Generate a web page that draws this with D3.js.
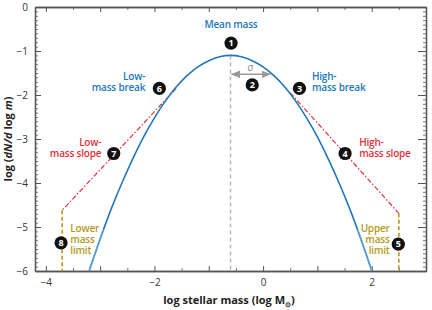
<!DOCTYPE html>
<html>
<head>
<meta charset="utf-8">
<script src="https://cdn.jsdelivr.net/npm/d3@7"></script>
<style>
  html, body { margin: 0; padding: 0; background: #fff; }
  svg { display: block; font-family: "Open Sans", "Noto Sans", sans-serif; }
  .axis path.domain { stroke: #555; stroke-width: 1.3; }
  .axis line { stroke: #555; }
  .axis.minor line { stroke: #777; }
  .axis text { fill: #333; font-size: 10px; font-family: "Open Sans", sans-serif; }
</style>
</head>
<body>
<svg id="chart" width="432" height="310"></svg>
<script>
// log stellar mass vs log(dN/d log m)
const massX = [-3.2, -3.0, -2.8, -2.6, -2.4, -2.2, -2.0, -1.8, -1.6, -1.4, -1.2, -1.0, -0.8, -0.6,
  -0.4, -0.2, 0.0, 0.2, 0.4, 0.6, 0.8, 1.0, 1.2, 1.4, 1.6, 1.8, 2.0];
const densityY = [-5.99, -5.27, -4.60, -4.00, -3.45, -2.95, -2.52, -2.14, -1.82, -1.56, -1.36, -1.22, -1.13, -1.10,
  -1.13, -1.22, -1.36, -1.56, -1.82, -2.14, -2.52, -2.95, -3.45, -4.00, -4.60, -5.27, -5.99];

const lowSlope = [[-1.6, -1.85], [-3.7, -4.62]];
const highSlope = [[0.5, -1.95], [2.5, -4.69]];
const lowerLimit = [[-3.7, -4.62], [-3.7, -6]];
const upperLimit = [[2.5, -4.69], [2.5, -6]];
const meanMass = -0.6;
const meanPeak = -1.1;
const sigmaArrow = [[-0.6, -1.53], [0.13, -1.53]];

const xTicks = [-4, -2, 0, 2];
const yTicks = [0, -1, -2, -3, -4, -5, -6];

// badge number, x, y (data coords)
const badges = [
  [1, -0.59, -0.82], [2, -0.20, -1.77], [3, 0.67, -1.85], [4, 1.51, -3.33],
  [5, 2.49, -5.39], [6, -1.91, -1.85], [7, -2.75, -3.33], [8, -3.72, -5.36]
];
// text lines, x, y, anchor, colour key
const labels = [
  [['Mean mass'], -0.59, -0.48, 'middle', 'blue'],
  [['High-', 'mass break'], 0.90, -1.67, 'start', 'blue'],
  [['Low-', 'mass break'], -2.17, -1.67, 'end', 'blue'],
  [['High-', 'mass slope'], 1.77, -3.15, 'start', 'red'],
  [['Low-', 'mass slope'], -2.98, -3.15, 'end', 'red'],
  [['Lower', 'mass', 'limit'], -3.55, -5.12, 'start', 'olive'],
  [['Upper', 'mass', 'limit'], 2.33, -5.12, 'end', 'olive']
];

const COLORS = { blue: '#2277bb', lightBlue: '#9cc4e8', red: '#e2323c', olive: '#b39a1c', gray: '#b4b4b4' };

const svg = d3.select('#chart');
const plotL = 35, plotR = 426, plotT = 7, plotB = 271;
const x = d3.scaleLinear().domain([-4.2, 3]).range([plotL, plotR]);
const y = d3.scaleLinear().domain([-6, 0]).range([plotB, plotT]);

const minorX = d3.range(-4, 3.01, 0.5).filter((v) => !Number.isInteger(v));
const allX = d3.range(-4, 3.01, 1);
const minorY = d3.range(-60, 1, 1).map((v) => v / 10).filter((v) => !Number.isInteger(v));

// minor ticks first, then major axes
svg.append('g').attr('class', 'axis minor').attr('transform', `translate(0,${plotB})`).call(d3.axisBottom(x).tickValues(minorX).tickSize(-3).tickSizeOuter(0).tickFormat(''));
svg.append('g').attr('class', 'axis minor').attr('transform', `translate(0,${plotT})`).call(d3.axisTop(x).tickValues(minorX).tickSize(-3).tickSizeOuter(0).tickFormat(''));
svg.append('g').attr('class', 'axis minor').attr('transform', `translate(${plotL},0)`).call(d3.axisLeft(y).tickValues(minorY).tickSize(-3).tickSizeOuter(0).tickFormat(''));
svg.append('g').attr('class', 'axis minor').attr('transform', `translate(${plotR},0)`).call(d3.axisRight(y).tickValues(minorY).tickSize(-3).tickSizeOuter(0).tickFormat(''));

svg.append('g').attr('class', 'axis').attr('transform', `translate(0,${plotT})`).call(d3.axisTop(x).tickValues(allX).tickSize(-5).tickSizeOuter(0).tickFormat(''));
svg.append('g').attr('class', 'axis').attr('transform', `translate(${plotR},0)`).call(d3.axisRight(y).tickValues(yTicks).tickSize(-8).tickSizeOuter(0).tickFormat(''));
svg.append('g').attr('class', 'axis').attr('transform', `translate(${plotL},0)`).call(d3.axisLeft(y).tickValues(yTicks).tickSize(-6).tickSizeOuter(0).tickPadding(7).tickFormat(d3.format('d')));
const xAxis = svg.append('g').attr('class', 'axis').attr('transform', `translate(0,${plotB})`).call(d3.axisBottom(x).tickValues(allX).tickSize(-5).tickSizeOuter(0).tickPadding(8).tickFormat((v) => (xTicks.includes(v) ? d3.format('d')(v) : '')));
xAxis.select('path.domain').attr('stroke-width', 2).attr('stroke', '#444');

// mean-mass dashed line
svg.append('line').attr('x1', x(meanMass)).attr('x2', x(meanMass)).attr('y1', y(meanPeak)).attr('y2', y(-6))
  .attr('stroke', COLORS.gray).attr('stroke-width', 1.4).attr('stroke-dasharray', '4,3');

// sigma arrow
const defs = svg.append('defs');
defs.append('marker').attr('id', 'arr').attr('viewBox', '0 0 10 10').attr('refX', 9).attr('refY', 5)
  .attr('markerWidth', 6).attr('markerHeight', 6).attr('orient', 'auto-start-reverse')
  .append('path').attr('d', 'M0,1 L10,5 L0,9 Z').attr('fill', '#999');
svg.append('line').attr('x1', x(sigmaArrow[0][0]) + 1).attr('x2', x(sigmaArrow[1][0]))
  .attr('y1', y(sigmaArrow[0][1])).attr('y2', y(sigmaArrow[1][1]))
  .attr('stroke', '#999').attr('stroke-width', 1.6)
  .attr('marker-start', 'url(#arr)').attr('marker-end', 'url(#arr)');
svg.append('text').attr('x', (x(sigmaArrow[0][0]) + x(sigmaArrow[1][0])) / 2).attr('y', y(sigmaArrow[0][1]) - 3)
  .attr('text-anchor', 'middle').attr('font-size', 10).attr('font-style', 'italic').attr('fill', '#888').text('σ');

// red slopes and olive limits
const seg = d3.line().x((d) => x(d[0])).y((d) => y(d[1]));
[lowSlope, highSlope].forEach((s) => {
  svg.append('path').attr('d', seg(s)).attr('fill', 'none').attr('stroke', COLORS.red).attr('stroke-width', 1.2).attr('stroke-dasharray', '5,2,1.5,2');
});
[lowerLimit, upperLimit].forEach((s) => {
  svg.append('path').attr('d', seg(s)).attr('fill', 'none').attr('stroke', COLORS.olive).attr('stroke-width', 1.6).attr('stroke-dasharray', '4,2.5');
});

// mass function curve
const curveData = massX.map((v, i) => [v, densityY[i]]);
const curve = d3.line().x((d) => x(d[0])).y((d) => y(d[1])).curve(d3.curveCatmullRom);
svg.append('path').attr('d', curve(curveData)).attr('fill', 'none').attr('stroke', COLORS.blue).attr('stroke-width', 1.6);
defs.append('clipPath').attr('id', 'lowclip').append('rect').attr('x', plotL).attr('y', y(-5.05)).attr('width', plotR - plotL).attr('height', plotB - y(-5.05));
svg.append('path').attr('d', curve(curveData)).attr('fill', 'none').attr('stroke', COLORS.lightBlue).attr('stroke-width', 1.6).attr('clip-path', 'url(#lowclip)');
svg.append('path').attr('d', curve(curveData)).attr('fill', 'none').attr('stroke', COLORS.blue).attr('stroke-width', 0.7).attr('clip-path', 'url(#lowclip)');

// labels
labels.forEach(([lines, lx, ly, anchor, key]) => {
  const t = svg.append('text').attr('x', x(lx)).attr('y', y(ly)).attr('text-anchor', anchor)
    .attr('fill', COLORS[key]).attr('font-size', 10).attr('font-weight', 600).attr('letter-spacing', -0.2);
  lines.forEach((line, i) => {
    t.append('tspan').attr('x', x(lx)).attr('dy', i === 0 ? 0 : 11).text(line);
  });
});

// numbered badges
const b = svg.append('g').selectAll('g').data(badges).join('g')
  .attr('transform', (d) => `translate(${x(d[1])},${y(d[2])})`);
b.append('circle').attr('r', 6.6).attr('fill', '#111');
b.append('text').attr('text-anchor', 'middle').attr('dy', '0.36em').attr('fill', '#fff')
  .attr('font-size', 9).attr('font-weight', 700).text((d) => d[0]);

// axis titles
const xt = svg.append('text').attr('x', 229).attr('y', 304).attr('text-anchor', 'middle')
  .attr('font-size', 11).attr('font-weight', 700).attr('fill', '#222');
xt.append('tspan').text('log stellar mass (log M');
xt.append('tspan').attr('font-size', 7).attr('dy', 3).text('⊙');
xt.append('tspan').attr('dy', -3).text(')');

const yt = svg.append('text').attr('transform', `translate(12,${(plotT + plotB) / 2}) rotate(-90)`)
  .attr('text-anchor', 'middle').attr('font-size', 11).attr('font-weight', 700).attr('fill', '#222');
yt.append('tspan').text('log (');
yt.append('tspan').attr('font-style', 'italic').text('dN/d');
yt.append('tspan').text(' log ');
yt.append('tspan').attr('font-style', 'italic').text('m');
yt.append('tspan').text(')');
</script>
</body>
</html>
